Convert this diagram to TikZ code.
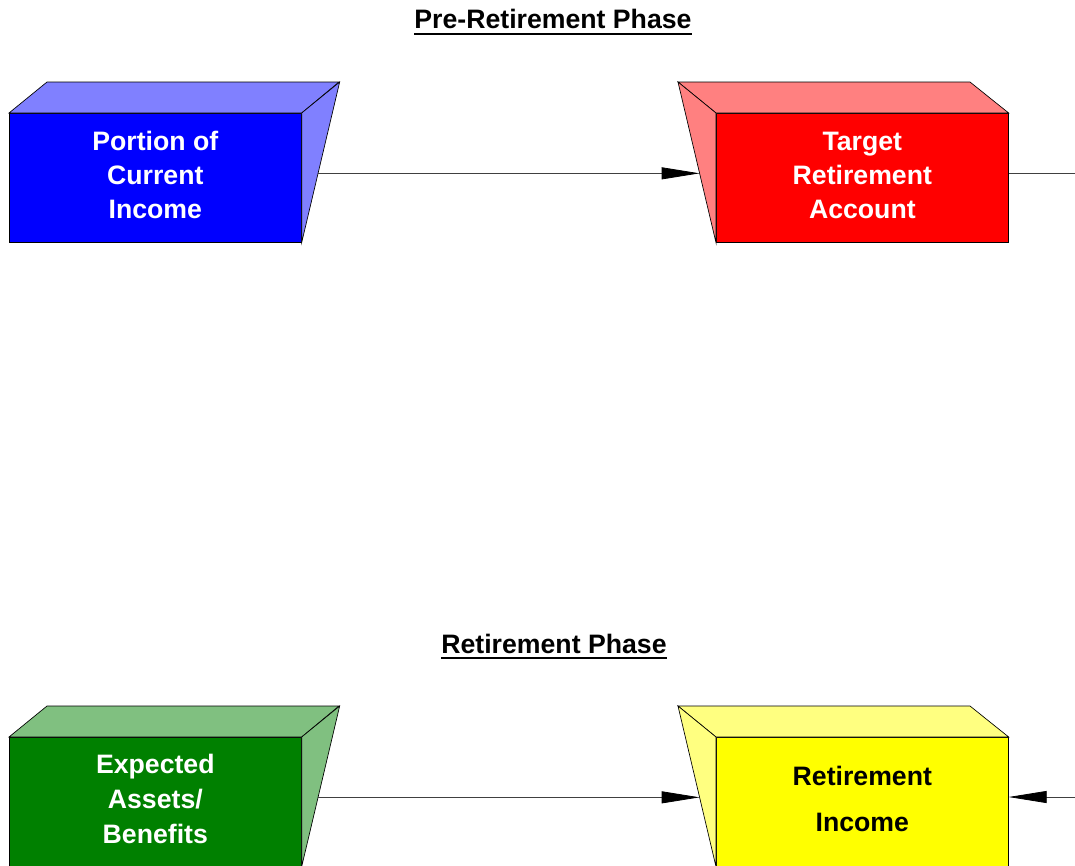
\documentclass[tikz,border=0pt]{standalone}
\usepackage{fontspec}
\setmainfont{Liberation Sans}
\usetikzlibrary{arrows.meta,calc}

\definecolor{blueside}{HTML}{8080FF}
\definecolor{redside}{HTML}{FF8080}
\definecolor{greenfront}{HTML}{008000}
\definecolor{greenside}{HTML}{80C080}
\definecolor{yellowfront}{HTML}{FFFF00}
\definecolor{yellowside}{HTML}{FFFF80}

\tikzset{
	front/.style={draw=black, line width=0.5pt, inner sep=0pt, anchor=north west,
		minimum width=219pt, minimum height=96.75pt, align=center, text depth=4.5pt},
	face/.style={draw=black, line width=0.5pt},
	boxtext/.style={font=\fontsize{20}{#1}\selectfont\bfseries},
	phase/.style={font=\fontsize{20}{22}\selectfont\bfseries, inner sep=0pt, anchor=base},
	link/.style={draw=black!75, line width=0.6pt},
	flow/.style={link, -{Triangle[length=28.5pt, width=9pt, color=black]}},
}

\begin{document}
\begin{tikzpicture}[x=0.75pt, y=-0.75pt]
			%%%%% START %%%%%
			\clip (0, 0) rectangle (1075, 865);
			
			% titles
			\node[phase] (pre) at (553, 28) {Pre-Retirement Phase};
			\draw[line width=1.6pt] ([yshift=-4.5pt]pre.base west) -- ([yshift=-4.5pt]pre.base east);
			\node[phase] (ret) at (554, 653) {Retirement Phase};
			\draw[line width=1.6pt] ([yshift=-4pt]ret.base west) -- ([yshift=-4pt]ret.base east);
			
			% pre-retirement boxes
			\node[front, fill=blue, text=white, boxtext=25.5pt] (portion) at (9, 113) {Portion of\\Current\\Income};
			\draw[face, fill=blueside] (portion.north west) -- ++(38, -31) -- ++(292, 0) -- (portion.north east) -- cycle;
			\draw[face, fill=blueside] (portion.north east) -- ++(38, -31) -- (portion.south east) -- cycle;
			
			\node[front, fill=red, text=white, boxtext=25.5pt] (target) at (716, 113) {Target\\Retirement\\Account};
			\draw[face, fill=redside] (target.north west) -- ++(-38, -31) -- ++(292, 0) -- (target.north east) -- cycle;
			\draw[face, fill=redside] (target.north west) -- ++(-38, -31) -- (target.south west) -- cycle;
			
			% retirement boxes
			\node[front, fill=greenfront, text=white, boxtext=26pt] (assets) at (9, 737) {Expected\\Assets/\\Benefits};
			\draw[face, fill=greenside] (assets.north west) -- ++(38, -31) -- ++(292, 0) -- (assets.north east) -- cycle;
			\draw[face, fill=greenside] (assets.north east) -- ++(38, -31) -- (assets.south east) -- cycle;
			
			\node[front, fill=yellowfront, text=black, boxtext=35pt] (income) at (716, 737) {Retirement\\Income};
			\draw[face, fill=yellowside] (income.north west) -- ++(-38, -31) -- ++(292, 0) -- (income.north east) -- cycle;
			\draw[face, fill=yellowside] (income.north west) -- ++(-38, -31) -- (income.south west) -- cycle;
			
			% connectors
			\coordinate (portion-out) at ($(portion.east)+(16.4, -4.5)$);
			\coordinate (target-in) at ($(target.west)+(-16.4, -4.5)$);
			\coordinate (assets-out) at ($(assets.east)+(16.4, -4.5)$);
			\coordinate (income-in) at ($(income.west)+(-16.4, -4.5)$);
			\coordinate (edge-top) at (1075, 173);
			\coordinate (edge-bot) at (1075, 797);
			
			\draw[flow] (portion-out) -- (target-in);
			\draw[link] (target.east |- edge-top) -- (edge-top);
			\draw[flow] (assets-out) -- (income-in);
			\draw[flow] (edge-bot) -- (income.east |- edge-bot);
			%%%%% END %%%%%
\end{tikzpicture}
\end{document}
